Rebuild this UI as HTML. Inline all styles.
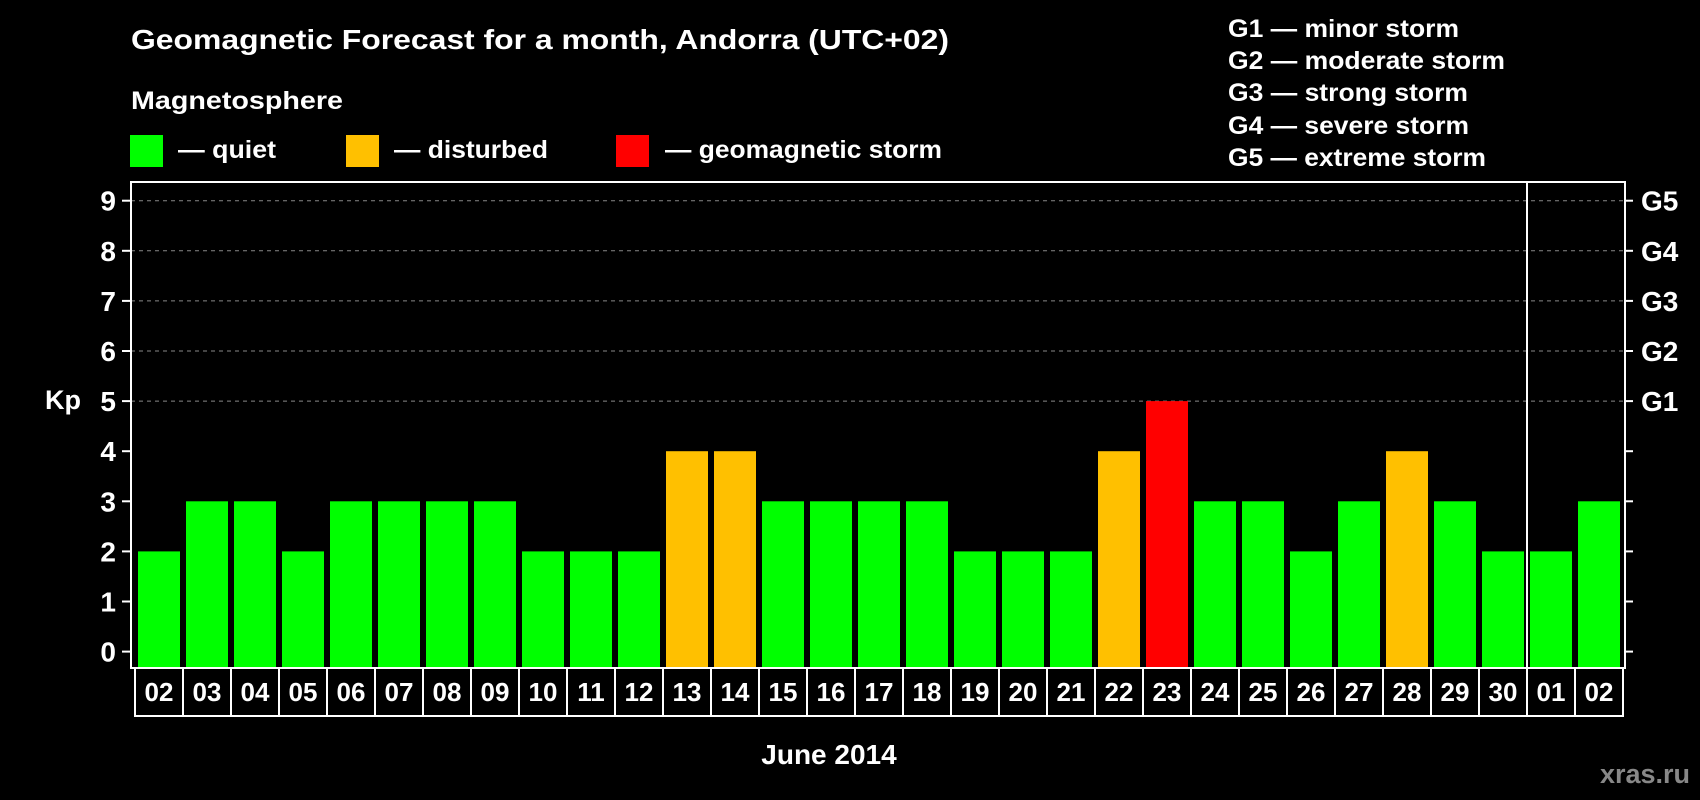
<!DOCTYPE html>
<html><head><meta charset="utf-8"><style>
html,body{margin:0;padding:0;background:#000;}
svg{display:block;font-family:"Liberation Sans",Arial,sans-serif;font-weight:bold;}
</style></head><body>
<svg id="chart" width="1700" height="800" viewBox="0 0 1700 800">
<rect x="0" y="0" width="1700" height="800" fill="#000"/>
<text x="131" y="49" fill="#fff" font-size="28" textLength="818" lengthAdjust="spacingAndGlyphs">Geomagnetic Forecast for a month, Andorra (UTC+02)</text>
<text x="131" y="109" fill="#fff" font-size="25" textLength="212" lengthAdjust="spacingAndGlyphs">Magnetosphere</text>
<g>
<rect x="130" y="135" width="33" height="32" fill="#00ff00"/>
<text x="178" y="158" fill="#fff" font-size="25" textLength="98" lengthAdjust="spacingAndGlyphs">— quiet</text></g>
<g>
<rect x="346" y="135" width="33" height="32" fill="#ffc000"/>
<text x="394" y="158" fill="#fff" font-size="25" textLength="154" lengthAdjust="spacingAndGlyphs">— disturbed</text></g>
<g>
<rect x="616" y="135" width="33" height="32" fill="#ff0000"/>
<text x="665" y="158" fill="#fff" font-size="25" textLength="277" lengthAdjust="spacingAndGlyphs">— geomagnetic storm</text></g>
<g fill="#fff" font-size="25">
<text x="1228" y="37" textLength="231" lengthAdjust="spacingAndGlyphs">G1 — minor storm</text>
<text x="1228" y="69" textLength="277" lengthAdjust="spacingAndGlyphs">G2 — moderate storm</text>
<text x="1228" y="101" textLength="240" lengthAdjust="spacingAndGlyphs">G3 — strong storm</text>
<text x="1228" y="134" textLength="241" lengthAdjust="spacingAndGlyphs">G4 — severe storm</text>
<text x="1228" y="166" textLength="258" lengthAdjust="spacingAndGlyphs">G5 — extreme storm</text>
</g>
<g id="plot"></g>
<text x="63" y="409" fill="#fff" font-size="27" text-anchor="middle">Kp</text>
<text x="829" y="764" fill="#fff" font-size="28" text-anchor="middle">June 2014</text>
<text x="1690" y="783" fill="#888" font-size="27" text-anchor="end">xras.ru</text>
</svg>
<script>
const days = ["02","03","04","05","06","07","08","09","10","11","12","13","14","15","16","17","18","19","20","21","22","23","24","25","26","27","28","29","30","01","02"];
const kpValues = [2,3,3,2,3,3,3,3,2,2,2,4,4,3,3,3,3,2,2,2,4,5,3,3,2,3,4,3,2,2,3];
const yTicks = [0,1,2,3,4,5,6,7,8,9];
const gLabels = ["G1","G2","G3","G4","G5"];
const monthBreakIndex = 29;

const NS="http://www.w3.org/2000/svg";
const g=document.getElementById('plot');
const L=131,R=1625,T=182,B=668;
const x0=138,step=48,bw=42;
const y=v=>651.6-v*50.1;
const xb=i=>x0+i*step;
function mk(tag,attrs){const e=document.createElementNS(NS,tag);for(const k in attrs)e.setAttribute(k,attrs[k]);g.appendChild(e);return e;}
yTicks.forEach(v=>{
  if(v>=5){const l=mk('line',{x1:L,x2:R,y1:y(v),y2:y(v),stroke:'#888','stroke-width':1,'stroke-dasharray':'4,4'});
  
  }
  const t1=mk('line',{x1:L-9,x2:L,y1:y(v),y2:y(v),stroke:'#fff','stroke-width':2});
  
  
  const t2=mk('line',{x1:R,x2:R+8,y1:y(v),y2:y(v),stroke:'#fff','stroke-width':2});
  
  
  const tx=mk('text',{x:116,y:y(v)+10,fill:'#fff','font-size':28,'text-anchor':'end'});
  tx.textContent=v;
  
  
});
gLabels.forEach((s,i)=>{
  const t=mk('text',{x:1641,y:y(5+i)+10,fill:'#fff','font-size':28});
  t.textContent=s;
  
  
});
kpValues.forEach((v,i)=>{
  const c=v>=5?'#ff0000':(v>=4?'#ffc000':'#00ff00');
  const r=mk('rect',{x:xb(i),y:y(v),width:bw,height:B-y(v),fill:c});
  
  
});
const f=mk('rect',{x:L,y:T,width:R-L,height:B-T,fill:'none',stroke:'#fff','stroke-width':2});


const sep=mk('line',{x1:xb(monthBreakIndex)-3,x2:xb(monthBreakIndex)-3,y1:T,y2:B,stroke:'#fff','stroke-width':2});


days.forEach((d,i)=>{
  const bx=mk('rect',{x:xb(i)-3,y:B,width:step,height:48,fill:'none',stroke:'#fff','stroke-width':2});
  
  
  const t=mk('text',{x:xb(i)+bw/2,y:701,fill:'#fff','font-size':26,'text-anchor':'middle'});
  t.textContent=d;
  
  
});
</script>
</body></html>
